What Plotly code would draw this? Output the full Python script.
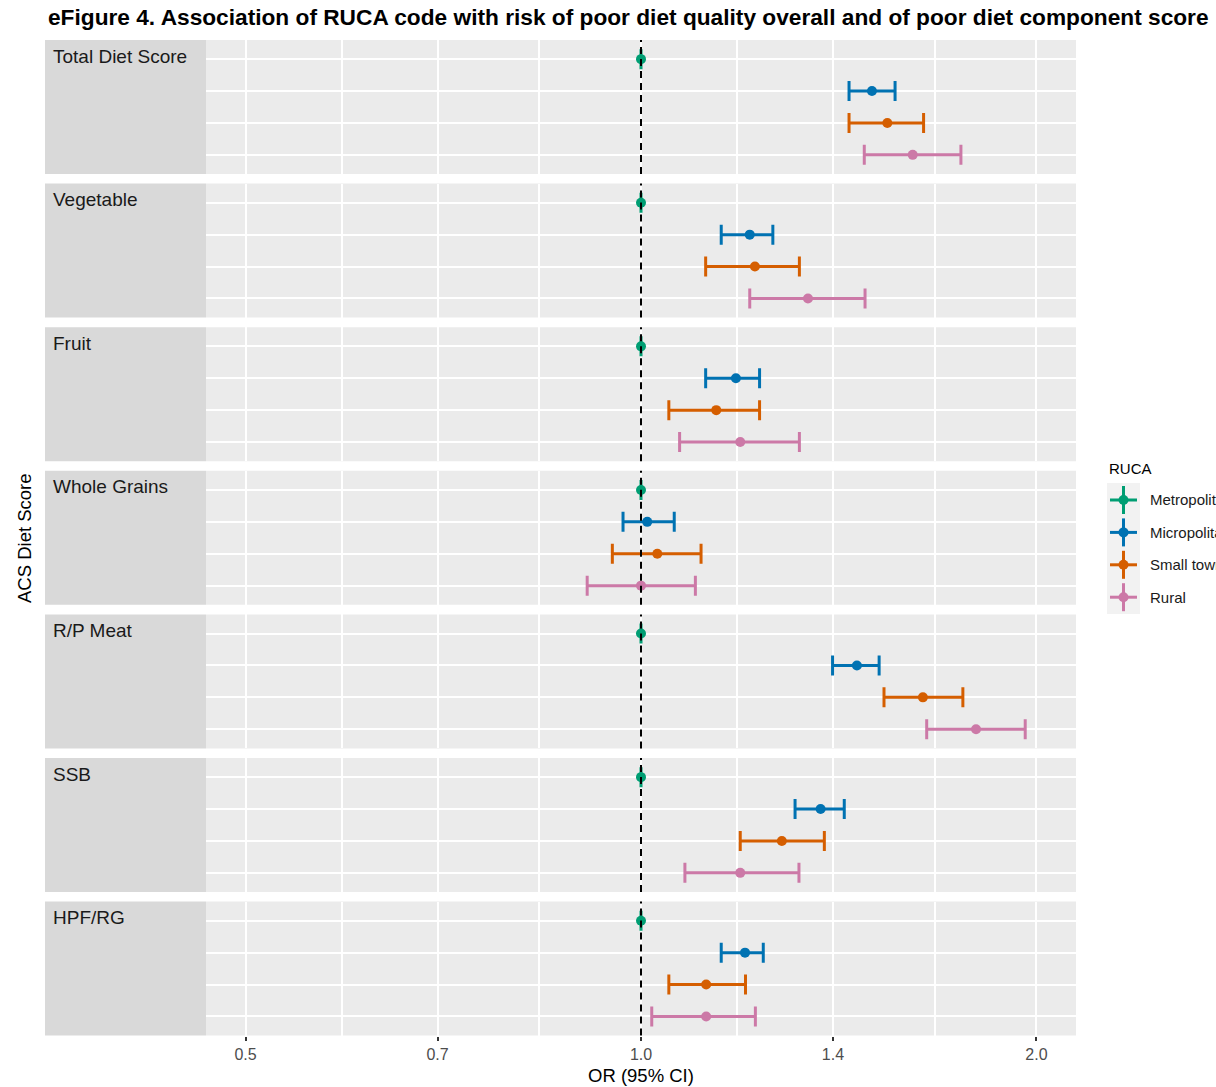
import math
import plotly.graph_objects as go

# ---------------- data ----------------
outcomes = ["Total Diet Score", "Vegetable", "Fruit", "Whole Grains", "R/P Meat", "SSB", "HPF/RG"]
ruca_groups = ["Metropolitan", "Micropolitan", "Small town", "Rural"]
ruca_colors = ["#009E73", "#0072B2", "#D55E00", "#CC79A7"]

or_metro = [1.0, 1.0, 1.0, 1.0, 1.0, 1.0, 1.0]
lo_metro = [1.0, 1.0, 1.0, 1.0, 1.0, 1.0, 1.0]
hi_metro = [1.0, 1.0, 1.0, 1.0, 1.0, 1.0, 1.0]

or_micro = [1.499, 1.210, 1.181, 1.011, 1.460, 1.370, 1.200]
lo_micro = [1.440, 1.151, 1.120, 0.969, 1.399, 1.310, 1.151]
hi_micro = [1.561, 1.260, 1.231, 1.060, 1.518, 1.428, 1.239]

or_small = [1.540, 1.221, 1.141, 1.029, 1.639, 1.280, 1.121]
lo_small = [1.440, 1.120, 1.050, 0.951, 1.531, 1.190, 1.050]
hi_small = [1.641, 1.320, 1.231, 1.111, 1.758, 1.379, 1.201]

or_rural = [1.610, 1.340, 1.190, 1.000, 1.799, 1.190, 1.121]
lo_rural = [1.479, 1.210, 1.070, 0.910, 1.650, 1.080, 1.019]
hi_rural = [1.752, 1.481, 1.320, 1.100, 1.961, 1.319, 1.222]

x_ticks = [0.5, 0.7, 1.0, 1.4, 2.0]
x_tick_text = ["0.5", "0.7", "1.0", "1.4", "2.0"]

series = [
    (or_metro, lo_metro, hi_metro),
    (or_micro, lo_micro, hi_micro),
    (or_small, lo_small, hi_small),
    (or_rural, lo_rural, hi_rural),
]

# ---------------- layout geometry (window pixels) ----------------
W, H = 1216, 1087
PX0, PX1 = 206, 1076          # panel x extent
SX0 = 45                      # strip left edge
TOP0, STEP, PH = 40.0, 143.6, 134.0
FONT = "Liberation Sans, Arial, Helvetica, sans-serif"

def px(x):
    return x / W

def py(y):
    return 1 - y / H

minor_vals = [math.sqrt(x_ticks[i] * x_ticks[i + 1]) for i in range(len(x_ticks) - 1)]
xr = [math.log10(0.5) - 0.05 * math.log10(4), math.log10(2.0) + 0.05 * math.log10(4)]

fig = go.Figure()
shapes = []
annotations = []
layout = {}

n = len(outcomes)
for i, name in enumerate(outcomes):
    k = i + 1
    sfx = "" if k == 1 else str(k)
    top = TOP0 + STEP * i
    bot = top + PH
    for g, grp in enumerate(ruca_groups):
        orv, lov, hiv = series[g]
        fig.add_trace(go.Scatter(
            x=[orv[i]], y=[grp],
            mode="markers",
            marker=dict(color=ruca_colors[g], size=10, line=dict(width=0)),
            error_x=dict(type="data", symmetric=False,
                         array=[hiv[i] - orv[i]], arrayminus=[orv[i] - lov[i]],
                         color=ruca_colors[g], thickness=3, width=10),
            xaxis="x" + sfx, yaxis="y" + sfx,
            showlegend=False, name=grp,
        ))
    last = (k == n)
    layout["xaxis" + sfx] = dict(
        type="log", range=xr, domain=[px(PX0), px(PX1)], anchor="y" + sfx,
        tickmode="array", tickvals=x_ticks, ticktext=x_tick_text,
        showticklabels=last, ticks="outside" if last else "",
        ticklen=4, tickwidth=1.5, tickcolor="#333333",
        tickfont=dict(family=FONT, size=16, color="#4D4D4D"),
        showgrid=True, gridcolor="white", gridwidth=2,
        minor=dict(tickvals=minor_vals, showgrid=True, gridcolor="white", gridwidth=2, ticks=""),
        zeroline=False, showline=False, fixedrange=True,
    )
    layout["yaxis" + sfx] = dict(
        type="category", categoryorder="array", categoryarray=ruca_groups[::-1],
        range=[-0.6, 3.6], domain=[py(bot), py(top)], anchor="x" + sfx,
        showticklabels=False, ticks="", showgrid=True, gridcolor="white", gridwidth=2,
        zeroline=False, showline=False, fixedrange=True,
    )
    # panel background
    shapes.append(dict(type="rect", xref="paper", yref="paper",
                       x0=px(PX0), x1=px(PX1), y0=py(bot), y1=py(top),
                       fillcolor="#EBEBEB", line=dict(width=0), layer="below"))
    # strip
    shapes.append(dict(type="rect", xref="paper", yref="paper",
                       x0=px(SX0), x1=px(PX0), y0=py(bot), y1=py(top),
                       fillcolor="#D9D9D9", line=dict(width=0), layer="below"))
    annotations.append(dict(text=name, xref="paper", yref="paper",
                            x=px(51), y=py(top + 16), xanchor="left", yanchor="middle",
                            showarrow=False, font=dict(family=FONT, size=19, color="#1A1A1A")))
    # reference line at OR = 1
    shapes.append(dict(type="line", xref="x" + sfx, yref="y" + sfx + " domain",
                       x0=1.0, x1=1.0, y0=0, y1=1,
                       line=dict(color="black", width=2, dash="7px,5px"), layer="above"))

# titles
annotations.append(dict(text="<b>eFigure 4. Association of RUCA code with risk of poor diet quality overall and of poor diet component score</b>",
                        xref="paper", yref="paper", x=px(46), y=py(17), xanchor="left", yanchor="middle",
                        showarrow=False, font=dict(family=FONT, size=22.7, color="black")))
annotations.append(dict(text="OR (95% CI)", xref="paper", yref="paper",
                        x=px((PX0 + PX1) / 2), y=py(1075), xanchor="center", yanchor="middle",
                        showarrow=False, font=dict(family=FONT, size=18.5, color="black")))
annotations.append(dict(text="ACS Diet Score", xref="paper", yref="paper",
                        x=px(24), y=py(538), xanchor="center", yanchor="middle", textangle=-90,
                        showarrow=False, font=dict(family=FONT, size=18.5, color="black")))

# manual legend
annotations.append(dict(text="RUCA", xref="paper", yref="paper", x=px(1107), y=py(468),
                        xanchor="left", yanchor="middle", showarrow=False,
                        font=dict(family=FONT, size=15, color="black")))
shapes.append(dict(type="rect", xref="paper", yref="paper", x0=px(1107), x1=px(1140),
                   y0=py(614), y1=py(483), fillcolor="#F2F2F2", line=dict(width=0)))
for g, grp in enumerate(ruca_groups):
    yc = 500 + 32.4 * g
    c = ruca_colors[g]
    shapes.append(dict(type="line", xref="paper", yref="paper", x0=px(1110), x1=px(1137),
                       y0=py(yc), y1=py(yc), line=dict(color=c, width=3)))
    shapes.append(dict(type="line", xref="paper", yref="paper", x0=px(1123.5), x1=px(1123.5),
                       y0=py(yc - 14), y1=py(yc + 14), line=dict(color=c, width=3)))
    shapes.append(dict(type="circle", xref="paper", yref="paper", x0=px(1118.5), x1=px(1128.5),
                       y0=py(yc + 5), y1=py(yc - 5), fillcolor=c, line=dict(width=0)))
    annotations.append(dict(text=grp, xref="paper", yref="paper", x=px(1148), y=py(yc),
                            xanchor="left", yanchor="middle", showarrow=False,
                            font=dict(family=FONT, size=15, color="#1A1A1A")))

fig.update_layout(
    width=W, height=H,
    margin=dict(l=0, r=0, t=0, b=0, autoexpand=False),
    paper_bgcolor="white", plot_bgcolor="rgba(0,0,0,0)",
    shapes=shapes, annotations=annotations, showlegend=False,
    font=dict(family=FONT),
    **layout,
)

fig.write_html(
    "out.html",
    config={"displayModeBar": False},
    post_script="document.body.style.margin='0';document.body.style.overflow='hidden';",
)
